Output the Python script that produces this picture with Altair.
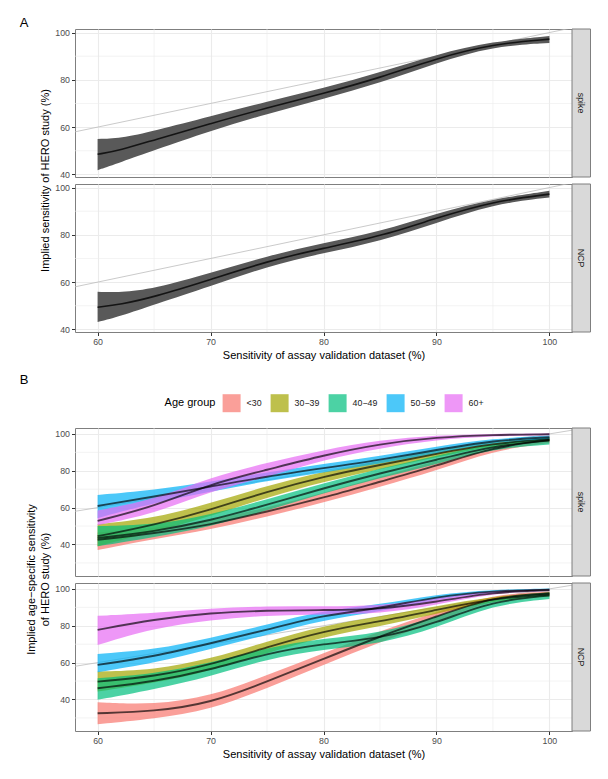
import altair as alt
import pandas as pd

FONT = "Liberation Sans"
W, H = 497, 148
XDOM = [58, 102]
x_major = [60, 70, 80, 90, 100]
x_minor = [65, 75, 85, 95]

# ---------------- Panel A data ----------------
x_a = [60, 62, 65, 70, 75, 80, 85, 90, 95, 100]
a_spike_mid = [48.5, 50.2, 54.6, 61.5, 68.2, 74.2, 80.9, 89.1, 95.2, 97.2]
a_spike_lo = [41.8, 45.1, 50.2, 58.5, 65.6, 72.0, 78.7, 87.2, 94.2, 95.6]
a_spike_hi = [55.0, 55.2, 58.4, 64.6, 70.8, 76.5, 83.1, 90.8, 96.3, 98.5]
a_ncp_mid = [49.4, 50.5, 53.7, 61.1, 68.8, 74.4, 79.3, 87.1, 94.1, 97.2]
a_ncp_lo = [43.1, 45.6, 50.5, 58.3, 66.6, 72.3, 77.3, 85.0, 93.0, 95.8]
a_ncp_hi = [55.9, 55.6, 57.2, 63.9, 71.0, 76.6, 81.3, 89.1, 95.2, 98.6]

# ---------------- Panel B data ----------------
x_b = [60, 65, 70, 75, 80, 85, 90, 95, 100]
ages = ["<30", "30\u221239", "40\u221249", "50\u221259", "60+"]
age_colors = ["#F8766D", "#A3A500", "#00BF7D", "#00B0F6", "#E76BF3"]

b_spike_mid = {
    "<30": [42.5, 46.1, 50.6, 57.9, 65.3, 74.1, 82.6, 92.8, 96.7],
    "30\u221239": [44.5, 50.6, 58.8, 68.7, 76.9, 83.2, 89.2, 94.9, 97.1],
    "40\u221249": [43.5, 47.0, 53.0, 61.5, 70.5, 78.7, 85.9, 93.5, 96.4],
    "50\u221259": [60.9, 66.0, 71.4, 76.9, 81.4, 85.9, 91.3, 96.4, 98.2],
    "60+": [52.8, 60.6, 72.9, 80.5, 88.4, 94.6, 98.2, 99.5, 99.8],
}
b_spike_lo = {
    "<30": [37.0, 43.0, 48.0, 55.2, 62.7, 71.4, 80.0, 91.0, 95.0],
    "30\u221239": [39.0, 47.0, 55.2, 65.6, 74.1, 80.8, 87.3, 93.8, 96.0],
    "40\u221249": [39.0, 44.0, 49.7, 58.4, 67.8, 76.0, 83.5, 92.0, 94.2],
    "50\u221259": [54.3, 62.7, 68.7, 74.5, 79.0, 83.7, 89.5, 95.3, 97.3],
    "60+": [50.5, 56.6, 69.0, 76.5, 85.9, 92.2, 96.8, 98.8, 99.2],
}
b_spike_hi = {
    "<30": [46.5, 48.8, 52.8, 60.2, 67.8, 76.9, 85.0, 94.5, 98.2],
    "30\u221239": [51.0, 54.2, 62.4, 71.8, 79.6, 85.5, 91.1, 96.0, 98.2],
    "40\u221249": [50.0, 50.5, 56.0, 64.6, 73.2, 81.3, 88.2, 95.0, 98.0],
    "50\u221259": [66.9, 69.6, 74.1, 79.2, 83.8, 88.0, 93.1, 97.5, 99.1],
    "60+": [58.5, 64.2, 76.5, 84.4, 91.3, 96.7, 99.3, 100.1, 100.3],
}
b_ncp_mid = {
    "<30": [32.5, 33.5, 38.0, 49.7, 62.0, 74.3, 85.0, 95.8, 97.6],
    "30\u221239": [49.7, 52.4, 58.8, 68.4, 77.2, 82.3, 88.6, 94.8, 97.1],
    "40\u221249": [46.1, 49.7, 56.1, 65.1, 70.3, 73.0, 81.5, 93.5, 96.4],
    "50\u221259": [58.8, 63.3, 70.5, 77.8, 85.8, 89.5, 95.8, 98.9, 99.6],
    "60+": [77.8, 83.5, 87.0, 88.3, 88.5, 88.8, 93.0, 98.3, 99.3],
}
b_ncp_lo = {
    "<30": [26.6, 29.5, 34.4, 46.1, 58.8, 71.2, 82.3, 94.5, 96.5],
    "30\u221239": [44.3, 48.8, 55.5, 65.3, 74.1, 79.6, 86.5, 93.5, 96.0],
    "40\u221249": [39.8, 45.5, 52.5, 62.0, 67.2, 70.2, 78.7, 91.5, 94.5],
    "50\u221259": [54.8, 59.7, 67.5, 75.0, 83.3, 87.5, 94.5, 98.2, 99.0],
    "60+": [69.6, 78.7, 83.2, 85.6, 86.2, 86.5, 91.3, 97.8, 98.8],
}
b_ncp_hi = {
    "<30": [38.5, 37.1, 41.6, 53.3, 65.1, 77.2, 87.5, 97.0, 98.6],
    "30\u221239": [55.2, 56.0, 62.0, 71.5, 80.1, 85.0, 90.6, 96.0, 98.2],
    "40\u221249": [51.5, 54.0, 59.7, 68.2, 73.2, 75.8, 85.0, 95.5, 98.0],
    "50\u221259": [64.7, 66.9, 73.4, 80.6, 88.3, 91.5, 97.0, 99.6, 100.2],
    "60+": [85.4, 86.8, 89.5, 90.6, 90.6, 90.8, 94.8, 99.3, 99.8],
}


def a_frame(mid, lo, hi):
    return pd.DataFrame({"x": x_a, "mid": mid, "lo": lo, "hi": hi})


def b_frame(mid, lo, hi):
    rows = []
    for age in ages:
        for i, xv in enumerate(x_b):
            rows.append({"age": age, "x": xv, "mid": mid[age][i], "lo": lo[age][i], "hi": hi[age][i]})
    return pd.DataFrame(rows)


def make_panel(df, ydom, yvals, yminor, label, bottom, grouped, legend=None, extras=()):
    xsc = alt.Scale(domain=XDOM, nice=False, zero=False)
    ysc = alt.Scale(domain=ydom, nice=False, zero=False)
    if bottom:
        xax = alt.Axis(values=x_major, title="Sensitivity of assay validation dataset (%)",
                       titlePadding=3)
    else:
        xax = alt.Axis(values=x_major, labels=False, ticks=False, title=None)
    yax = alt.Axis(values=yvals, title=None)

    def X(f):
        return alt.X(f, type="quantitative", scale=xsc, axis=xax)

    def Y(f):
        return alt.Y(f, type="quantitative", scale=ysc, axis=yax)

    gx = alt.Chart(pd.DataFrame({"v": x_minor})).mark_rule(
        color="#EBEBEB", strokeWidth=0.6).encode(x=X("v"))
    gy = alt.Chart(pd.DataFrame({"v": yminor})).mark_rule(
        color="#EBEBEB", strokeWidth=0.6).encode(y=Y("v"))
    diag = alt.Chart(pd.DataFrame({"v": XDOM})).mark_line(
        color="#BDBDBD", strokeWidth=0.8, clip=True).encode(x=X("v"), y=Y("v"))

    base = alt.Chart(df)
    if grouped:
        ribbon = base.mark_area(interpolate="basis", opacity=0.7).encode(
            x=X("x"), y=Y("lo"), y2="hi",
            color=alt.Color("age:N", scale=alt.Scale(domain=ages, range=age_colors),
                            legend=legend))
        line = base.mark_line(interpolate="basis", color="black", opacity=0.66,
                              strokeWidth=1.9).encode(x=X("x"), y=Y("mid"), detail="age:N")
    else:
        ribbon = base.mark_area(interpolate="basis", color="#595959", opacity=1).encode(
            x=X("x"), y=Y("lo"), y2="hi")
        line = base.mark_line(interpolate="basis", color="#141414",
                              strokeWidth=1.6).encode(x=X("x"), y=Y("mid"))

    sdf = pd.DataFrame({"label": [label]})
    strip_rect = alt.Chart(sdf).mark_rect(fill="#D9D9D9", stroke="#7F7F7F", strokeWidth=1).encode(
        x=alt.value(W), x2=alt.value(W + 18.5), y=alt.value(0), y2=alt.value(H))
    strip_text = alt.Chart(sdf).mark_text(angle=90, fontSize=8.8, color="#1A1A1A", font=FONT,
                                          baseline="middle", align="center").encode(
        x=alt.value(W + 9.25), y=alt.value(H / 2), text="label:N")

    layers = [gx, gy, diag, ribbon, line, strip_rect, strip_text] + list(extras)
    return alt.layer(*layers).properties(width=W, height=H)


def text_layer(txt, x, y, size, angle=0, align="left", baseline="alphabetic"):
    kw = dict(fontSize=size, font=FONT, color="black", align=align, baseline=baseline)
    if angle:
        kw["angle"] = angle
    return alt.Chart(pd.DataFrame({"t": [txt]})).mark_text(**kw).encode(
        x=alt.value(x), y=alt.value(y), text="t:N")


ydom_a = [38.9, 101.5]
ydom_b = [22.9, 103.2]
yvals = [40, 60, 80, 100]

label_a = text_layer("A", -55.3, -2, 13)
title_a = text_layer("Implied sensitivity of HERO study (%)", -29.4, 151.5, 11,
                     angle=270, align="center", baseline="middle")
label_b = text_layer("B", -55.3, -44.3, 13)
title_b1 = text_layer("Implied age\u2212specific sensitivity", -43.5, 151.5, 11,
                      angle=270, align="center", baseline="middle")
title_b2 = text_layer("of HERO study (%)", -29.4, 151.5, 11,
                      angle=270, align="center", baseline="middle")

legend_b = alt.Legend(
    orient="none", legendX=89.6, legendY=-33.8, direction="horizontal",
    title="Age group", titleOrient="left", titleFontSize=11, titleFontWeight="normal",
    titleColor="black", titleFont=FONT, titlePadding=7, titleBaseline="middle",
    titleAnchor="middle",
    symbolType="square", symbolSize=324, symbolOpacity=0.7, symbolStrokeWidth=0,
    labelFontSize=8.8, labelFont=FONT, labelColor="#1A1A1A", labelOffset=6,
    columnPadding=9)

pA1 = make_panel(a_frame(a_spike_mid, a_spike_lo, a_spike_hi), ydom_a, yvals, [50, 70, 90],
                 "spike", False, False, extras=[label_a, title_a])
pA2 = make_panel(a_frame(a_ncp_mid, a_ncp_lo, a_ncp_hi), ydom_a, yvals, [50, 70, 90],
                 "NCP", True, False)
pB1 = make_panel(b_frame(b_spike_mid, b_spike_lo, b_spike_hi), ydom_b, yvals, [30, 50, 70, 90],
                 "spike", False, True, legend=legend_b, extras=[label_b, title_b1, title_b2])
pB2 = make_panel(b_frame(b_ncp_mid, b_ncp_lo, b_ncp_hi), ydom_b, yvals, [30, 50, 70, 90],
                 "NCP", True, True, legend=None)

spacer = alt.Chart(pd.DataFrame({"v": [0]})).mark_point(opacity=0).encode(
    x=alt.value(0), y=alt.value(0)).properties(
    width=W, height=82, view=alt.ViewBackground(strokeOpacity=0))

chart = alt.vconcat(pA1, pA2, spacer, pB1, pB2, spacing=7, bounds="flush").resolve_scale(
    color="independent").properties(
    padding={"left": 11, "top": 8, "right": 5, "bottom": 5}
).configure(font=FONT).configure_view(
    stroke="#7F7F7F", strokeWidth=1
).configure_axis(
    gridColor="#EBEBEB", gridWidth=1.1, tickColor="#333333", tickSize=3.5, tickWidth=1,
    labelColor="#4D4D4D", labelFontSize=8.8, labelFont=FONT, labelPadding=2,
    titleFont=FONT, titleFontSize=11, titleColor="black", titleFontWeight="normal",
    domain=False
)

chart.save("out.html", embed_options={"renderer": "svg", "actions": False})
